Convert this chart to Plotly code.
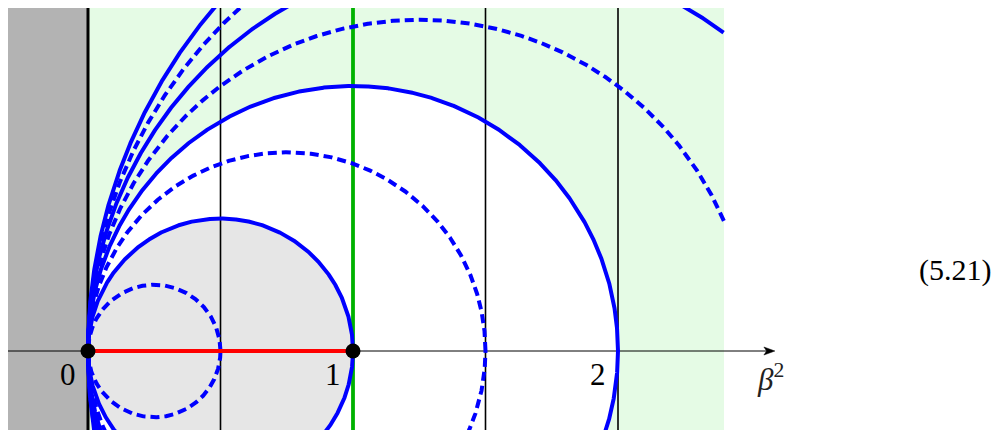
import numpy as np
import plotly.graph_objects as go

# ---- data ----
diameters = [0.5, 1.0, 1.5, 2.0, 2.5, 3.0, 3.5, 4.0]
dash_styles = ["dash", "solid", "dash", "solid", "dash", "solid", "dash", "solid"]
thin_vlines = [0.5, 1.5, 2.0]
thick_vline = 0.0
green_vline = 1.0
red_segment_x = [0.0, 1.0]
red_segment_y = [0.0, 0.0]
dots_x = [0.0, 1.0]
dots_y = [0.0, 0.0]
tick_vals = [0, 1, 2]
tick_text = ["0", "1", "2"]
region_right = 2.4
axis_end = 2.592

# ---- geometry (page body has an 8px margin) ----
PAGE_W, PAGE_H = 1008, 430
OFF = 8
W, H = PAGE_W - OFF, PAGE_H - OFF
ppu = 265.0
x0_px, y0_px = 88 - OFF, 351 - OFF
xr = [-x0_px / ppu, (W - x0_px) / ppu]
yr = [-(H - y0_px) / ppu, y0_px / ppu]
ybot, ytop = yr
gray_left = xr[0]

BLUE = "#0000ff"
fig = go.Figure()

theta = np.linspace(0, 2 * np.pi, 4000)
for d, style in zip(diameters, dash_styles):
    r = d / 2
    x = r + r * np.cos(theta)
    y = r * np.sin(theta)
    mask = x > region_right
    x = np.where(mask, np.nan, x)
    y = np.where(mask, np.nan, y)
    fig.add_trace(go.Scatter(
        x=x, y=y, mode="lines",
        line=dict(color=BLUE, width=4, dash="9px,5px" if style == "dash" else "solid"),
        hoverinfo="skip", showlegend=False))

fig.add_trace(go.Scatter(x=red_segment_x, y=red_segment_y, mode="lines",
                         line=dict(color="#ff0000", width=4),
                         hoverinfo="skip", showlegend=False))
fig.add_trace(go.Scatter(x=dots_x, y=dots_y, mode="markers",
                         marker=dict(color="black", size=15),
                         hoverinfo="skip", showlegend=False))

shapes = []
shapes.append(dict(type="rect", x0=0, x1=region_right, y0=ybot, y1=ytop,
                   fillcolor="rgb(229,251,229)", line=dict(width=0), layer="below"))
shapes.append(dict(type="circle", x0=0, x1=2, y0=-1, y1=1,
                   fillcolor="white", line=dict(width=0), layer="below"))
shapes.append(dict(type="circle", x0=0, x1=1, y0=-0.5, y1=0.5,
                   fillcolor="rgb(230,230,230)", line=dict(width=0), layer="below"))
shapes.append(dict(type="rect", x0=gray_left, x1=0, y0=ybot, y1=ytop,
                   fillcolor="rgb(179,179,179)", line=dict(width=0), layer="below"))
for xv in thin_vlines:
    shapes.append(dict(type="line", x0=xv, x1=xv, y0=ybot, y1=ytop,
                       line=dict(color="black", width=1.6), layer="below"))
shapes.append(dict(type="line", x0=thick_vline, x1=thick_vline, y0=ybot, y1=ytop,
                   line=dict(color="black", width=3), layer="below"))
shapes.append(dict(type="line", x0=green_vline, x1=green_vline, y0=ybot, y1=ytop,
                   line=dict(color="rgb(0,178,0)", width=3.8), layer="below"))
shapes.append(dict(type="line", x0=gray_left, x1=axis_end - 4 / ppu, y0=0, y1=0,
                   line=dict(color="black", width=1), layer="below"))
ah_len, ah_half = 11 / ppu, 4 / ppu
shapes.append(dict(type="path",
                   path=f"M {axis_end},0 L {axis_end-ah_len},{ah_half} L {axis_end-ah_len*0.75},0 L {axis_end-ah_len},{-ah_half} Z",
                   fillcolor="black", line=dict(color="black", width=0.5), layer="above"))

annotations = []
for v, t in zip(tick_vals, tick_text):
    annotations.append(dict(x=v, y=0, text=t, showarrow=False, xanchor="center", yanchor="middle",
                            xshift=-20, yshift=-23,
                            font=dict(family="Liberation Serif", size=31, color="black")))
annotations.append(dict(x=axis_end, y=0, text="<i>β</i><sup>2</sup>", showarrow=False,
                        xanchor="center", yanchor="middle", xshift=-4, yshift=-26,
                        font=dict(family="Liberation Serif", size=31, color="#222")))
annotations.append(dict(x=(955 - OFF) / W, y=1 - (270 - OFF) / H, xref="paper", yref="paper",
                        xanchor="center", yanchor="middle",
                        text="(5.21)", showarrow=False,
                        font=dict(family="Liberation Serif", size=30, color="black")))

fig.update_layout(
    width=W, height=H, margin=dict(l=0, r=0, t=0, b=0),
    paper_bgcolor="white", plot_bgcolor="white",
    xaxis=dict(range=xr, visible=False, fixedrange=True),
    yaxis=dict(range=yr, visible=False, fixedrange=True),
    shapes=shapes, annotations=annotations, showlegend=False,
)
fig.write_html("out.html")
